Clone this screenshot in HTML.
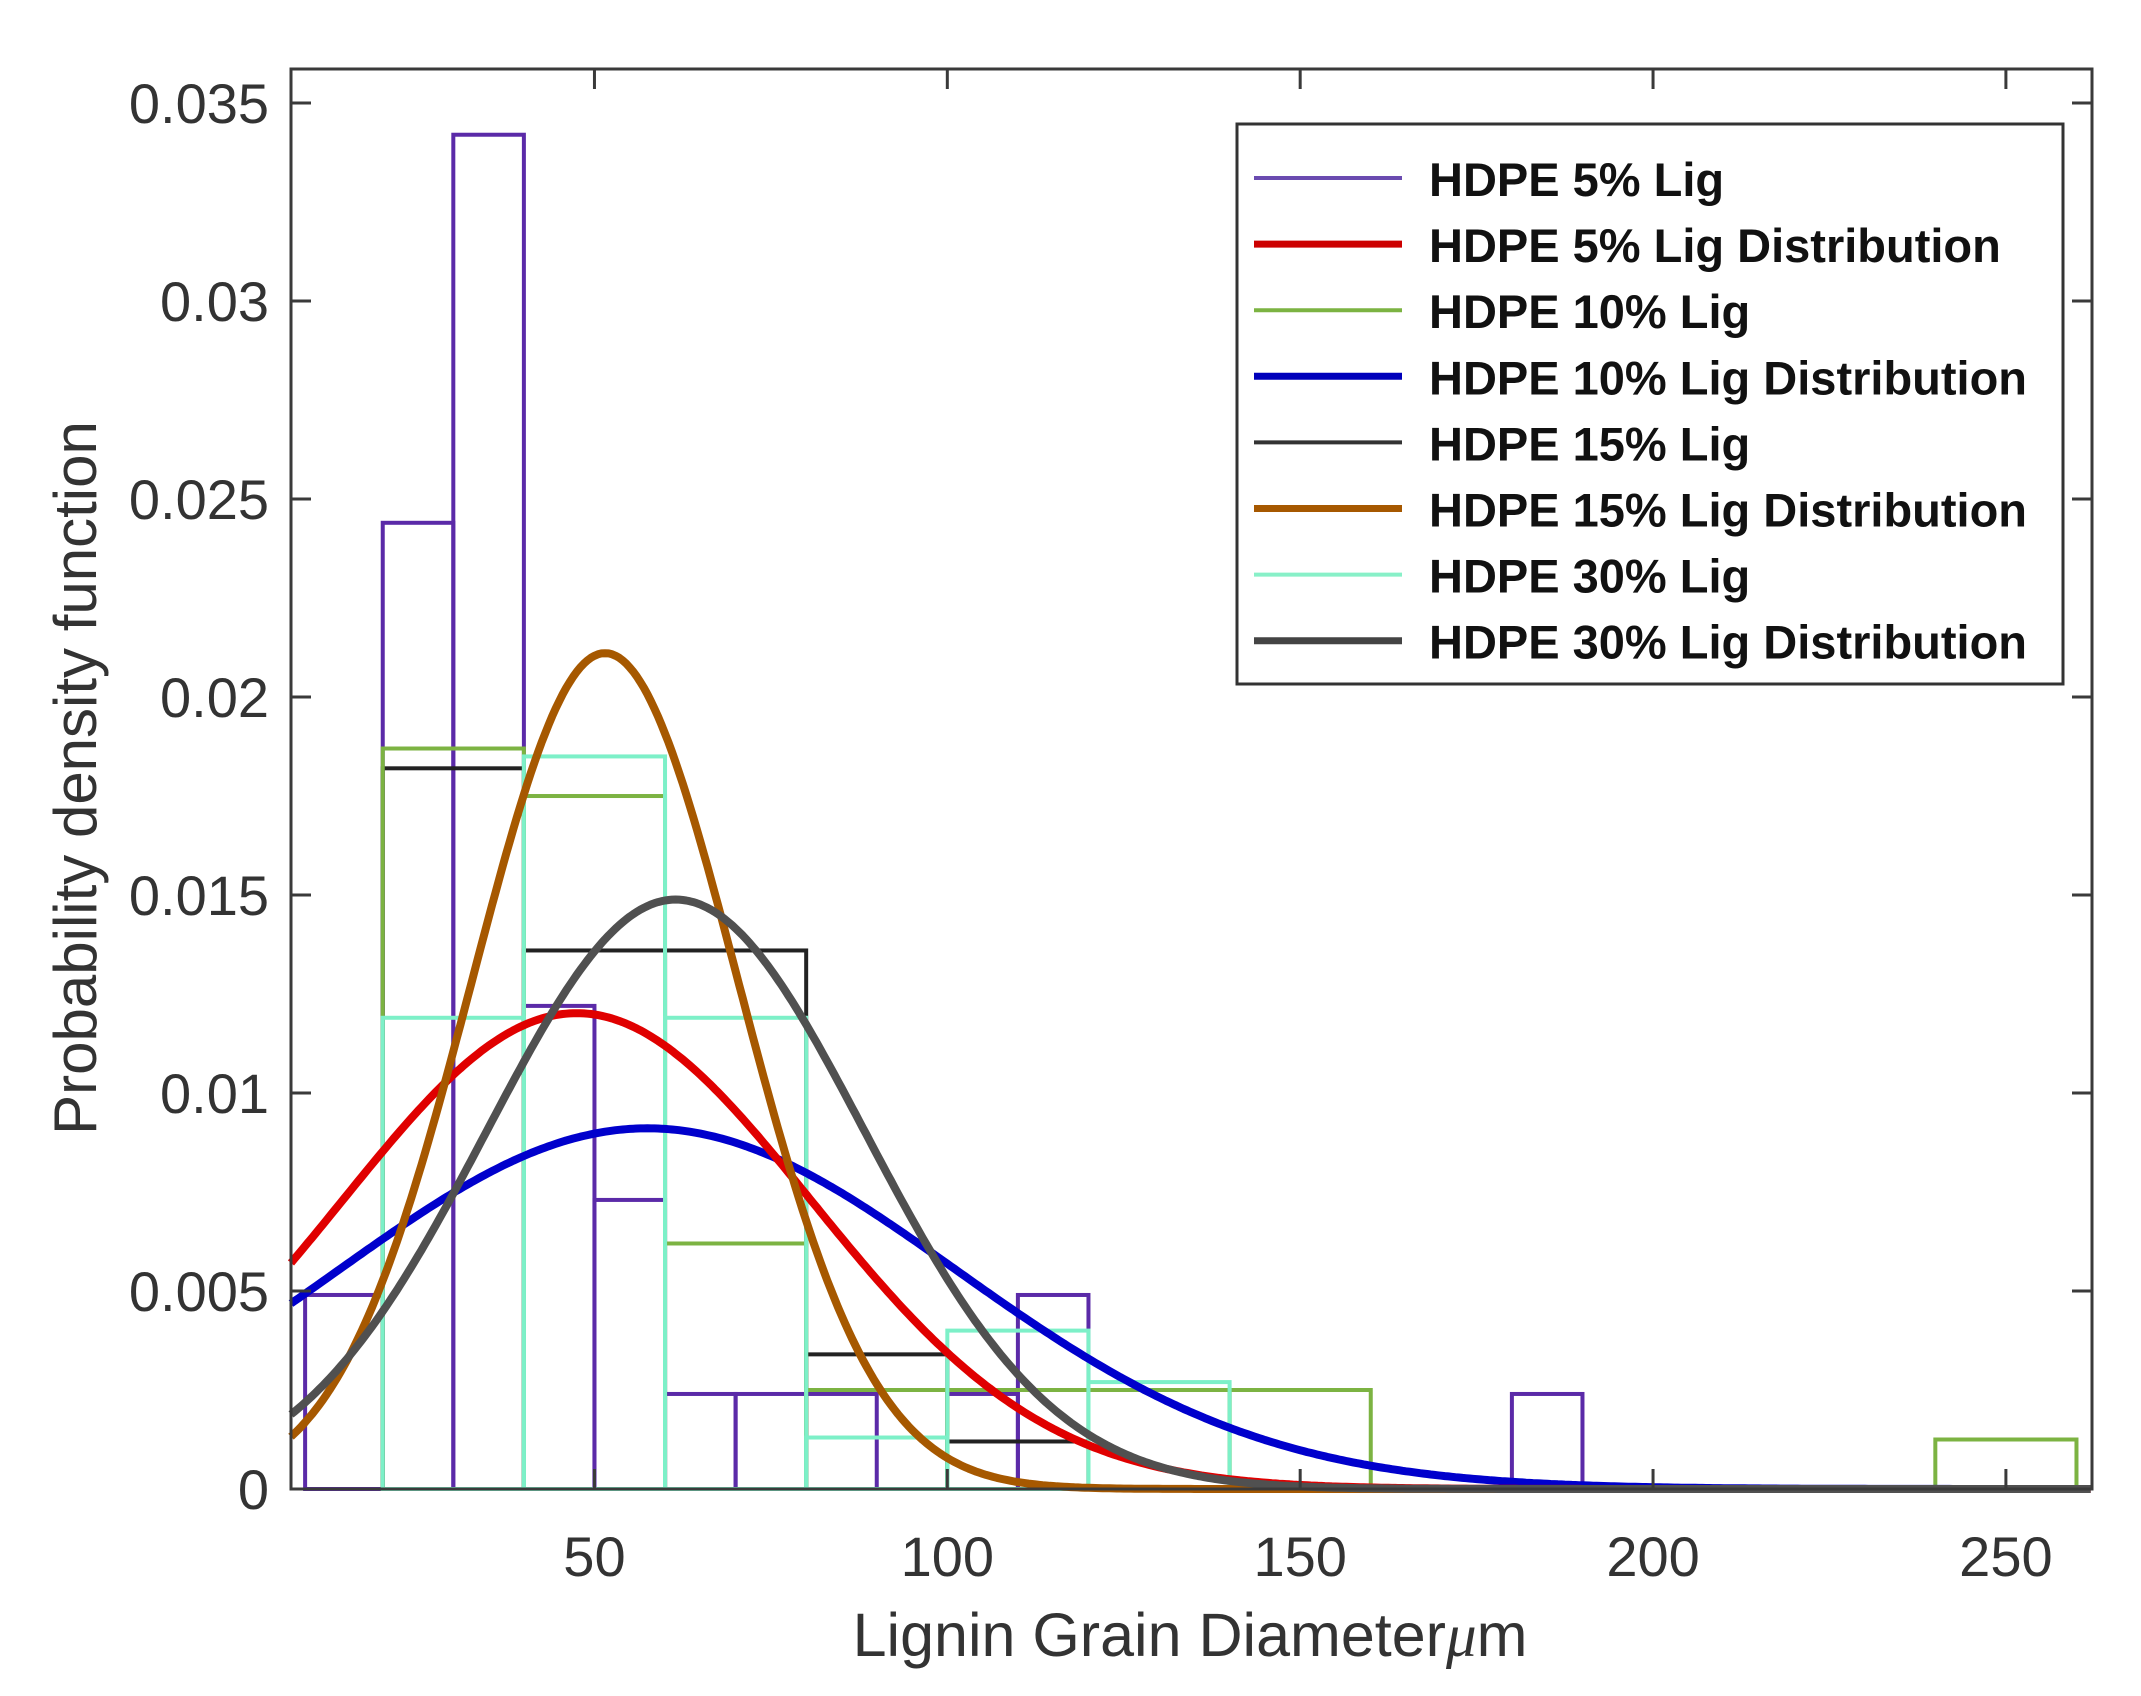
<!DOCTYPE html>
<html><head><meta charset="utf-8"><style>
html,body{margin:0;padding:0;background:#fff;}
svg{display:block;font-family:"Liberation Sans",Arial,sans-serif;}
</style></head><body>
<svg id="chart" width="2141" height="1696" viewBox="0 0 2141 1696">
<rect x="0" y="0" width="2141" height="1696" fill="#fff"/>
<g id="marks"></g>
<g id="axes"></g>
<g id="legend"></g>
</svg>
<script>
// ---- data ----
const xTicks = [50, 100, 150, 200, 250];
const yTicks = [0, 0.005, 0.01, 0.015, 0.02, 0.025, 0.03, 0.035];
const yTickLabels = ["0", "0.005", "0.01", "0.015", "0.02", "0.025", "0.03", "0.035"];
// histogram bin edges & heights
const edges5 = [9, 20, 30, 40, 50, 60, 70, 80, 90, 100, 110, 120, 180, 190];
const heights5 = [0.0049, 0.0244, 0.0342, 0.0122, 0.0073, 0.0024, 0.0024, 0.0024, 0, 0.0024, 0.0049, 0, 0.0024];
const edges10 = [20, 40, 60, 80, 100, 120, 140, 160, 240, 260];
const heights10 = [0.0187, 0.0175, 0.0062, 0.0025, 0.0025, 0.0025, 0.0025, 0, 0.00125];
const edges15 = [20, 40, 60, 80, 100, 120];
const heights15 = [0.0182, 0.0136, 0.0136, 0.0034, 0.0012];
const edges30 = [20, 40, 60, 80, 100, 120, 140];
const heights30 = [0.0119, 0.0185, 0.0119, 0.0013, 0.0040, 0.0027];
// fitted normal distributions
const fitNames = ["5", "10", "15", "30"];
const fitMeans = [47.5, 57.5, 51.5, 61.5];
const fitSigmas = [33.2, 43.8, 18.9, 26.8];
const legendLabels = ["HDPE 5% Lig", "HDPE 5% Lig Distribution", "HDPE 10% Lig", "HDPE 10% Lig Distribution", "HDPE 15% Lig", "HDPE 15% Lig Distribution", "HDPE 30% Lig", "HDPE 30% Lig Distribution"];

// ---- layout ----
const NS = "http://www.w3.org/2000/svg";
const L = 291, R = 2092, T = 69, B = 1489;
const xMin = 7, xMax = 262.2, yMin = 0, yMax = 0.03586;
const sx = v => L + (v - xMin) / (xMax - xMin) * (R - L);
const sy = v => B - (v - yMin) / (yMax - yMin) * (B - T);
function mk(tag, attrs, parent) {
  const e = document.createElementNS(NS, tag);
  for (const k in attrs) e.setAttribute(k, attrs[k]);
  parent.appendChild(e);
  return e;
}
const marks = document.getElementById("marks");
const axes = document.getElementById("axes");
const legend = document.getElementById("legend");

function hist(edges, heights, color, name) {
  const g = mk("g", {}, marks);
  
  
  for (let i = 0; i < heights.length; i++) {
    const x0 = sx(edges[i]), x1 = sx(edges[i + 1]), y = sy(heights[i]);
    const r = mk("rect", {x: x0, y: y, width: x1 - x0, height: Math.max(sy(0) - y, 0), fill: "none", stroke: color, "stroke-width": 4}, g);
    
    
  }
}
hist(edges5, heights5, "#5b2aa8", "hist-hdpe-5");
hist(edges15, heights15, "#222222", "hist-hdpe-15");
hist(edges10, heights10, "#7cb342", "hist-hdpe-10");
hist(edges30, heights30, "#7df0c8", "hist-hdpe-30");

const fitColors = ["#e00000", "#0000cc", "#a65800", "#505050"];
const fitOrder = [1, 0, 2, 3];
fitOrder.forEach(i => {
  let d = "";
  for (let x = xMin; x <= xMax; x += 0.5) {
    const y = Math.exp(-0.5 * Math.pow((x - fitMeans[i]) / fitSigmas[i], 2)) / (fitSigmas[i] * Math.sqrt(2 * Math.PI));
    d += (d ? "L" : "M") + sx(x).toFixed(1) + "," + sy(y).toFixed(1);
  }
  const p = mk("path", {d: d, fill: "none", stroke: fitColors[i], "stroke-width": 8, "stroke-linejoin": "round"}, marks);
  
  
});

// axes box
const box = mk("rect", {x: L, y: T, width: R - L, height: B - T, fill: "none", stroke: "#3a3a3a", "stroke-width": 3}, axes);


xTicks.forEach(v => {
  const x = sx(v);
  mk("line", {x1: x, y1: B, x2: x, y2: B - 20, stroke: "#3a3a3a", "stroke-width": 3}, axes);
  mk("line", {x1: x, y1: T, x2: x, y2: T + 20, stroke: "#3a3a3a", "stroke-width": 3}, axes);
  const t = mk("text", {x: x, y: 1576, "text-anchor": "middle", "font-size": 56, fill: "#333"}, axes);
  t.textContent = String(v);
  
  
});
yTicks.forEach((v, i) => {
  const y = sy(v);
  mk("line", {x1: L, y1: y, x2: L + 20, y2: y, stroke: "#3a3a3a", "stroke-width": 3}, axes);
  mk("line", {x1: R, y1: y, x2: R - 20, y2: y, stroke: "#3a3a3a", "stroke-width": 3}, axes);
  const t = mk("text", {x: 269, y: y + 20, "text-anchor": "end", "font-size": 56, fill: "#333"}, axes);
  t.textContent = yTickLabels[i];
  
  
});
const xl = mk("text", {x: 1190, y: 1656, "text-anchor": "middle", "font-size": 61, fill: "#333"}, axes);
xl.innerHTML = 'Lignin Grain Diameter<tspan font-family="Liberation Serif" font-style="italic">μ</tspan>m';


const yl = mk("text", {x: 0, y: 0, "text-anchor": "middle", "font-size": 60, fill: "#333", transform: "translate(96,778) rotate(-90)"}, axes);
yl.textContent = "Probability density function";



// legend
const lb = mk("rect", {x: 1237, y: 124, width: 826, height: 560, fill: "#fff", stroke: "#333", "stroke-width": 3}, legend);


const legColors = ["#6a4bb0", "#cc0000", "#7cb342", "#0000bb", "#333333", "#a65800", "#88f0c8", "#444444"];
const legWidths = [4, 7, 4, 7, 4, 7, 4, 7];
legendLabels.forEach((lab, i) => {
  const y = 178 + i * 66.1;
  const g = mk("g", {}, legend);
  
  
  mk("line", {x1: 1254, y1: y, x2: 1402, y2: y, stroke: legColors[i], "stroke-width": legWidths[i]}, g);
  const t = mk("text", {x: 1429, y: y + 18, "font-size": 47, "font-weight": "bold", fill: "#111"}, g);
  t.textContent = lab;
});
</script>
</body></html>
